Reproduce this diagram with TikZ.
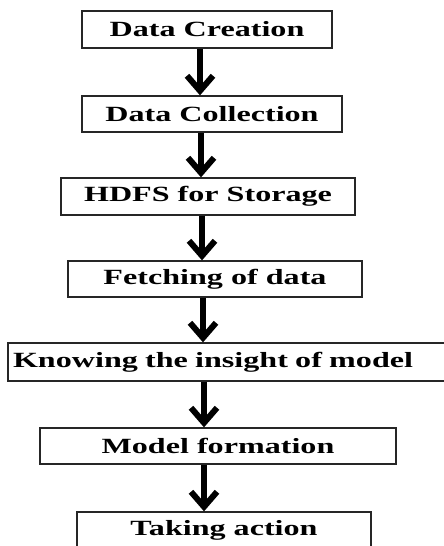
\documentclass[tikz,border=0pt]{standalone}
\usepackage{fontspec}
\setmainfont{Liberation Serif}[FakeStretch=1.48]
\usetikzlibrary{arrows.meta}
\tikzset{
  box/.style={draw=black!85, line width=1.3pt, rectangle, inner sep=0pt,
    font=\fontsize{21.7}{24}\selectfont\bfseries, text=black},
  arr/.style={line width=6pt, -{Straight Barb[length=15pt, width=26pt, line width=6pt]}}
}
\begin{document}
\begin{tikzpicture}[x=1pt,y=-1pt]
\useasboundingbox (0,0) rectangle (444,546);
\node[box, minimum width=250pt, minimum height=37pt] (b1) at (207,29.5) {Data Creation};
\node[box, minimum width=260pt, minimum height=36pt] (b2) at (212,114) {Data Collection};
\node[box, minimum width=294pt, minimum height=37pt] (b3) at (208,196.5) {HDFS for Storage};
\node[box, minimum width=294pt, minimum height=36pt] (b4) at (215,279) {Fetching of data};
\node[box, text width=432pt, inner xsep=5pt, minimum height=38pt, align=left] (b5) at (229,362) {Knowing the insight of model};
\node[box, minimum width=356pt, minimum height=36pt] (b6) at (218,446) {Model formation};
\node[box, minimum width=294pt, minimum height=37pt] (b7) at (224,530.5) {Taking action};
\coordinate (x1) at (200,0);
\coordinate (x2) at (201,0);
\coordinate (x3) at (202,0);
\coordinate (x4) at (203,0);
\coordinate (x5) at (204,0);
\coordinate (x6) at (204,0);
\draw[arr] (b1.south -| x1) -- (b2.north -| x1);
\draw[arr] (b2.south -| x2) -- (b3.north -| x2);
\draw[arr] (b3.south -| x3) -- (b4.north -| x3);
\draw[arr] (b4.south -| x4) -- (b5.north -| x4);
\draw[arr] (b5.south -| x5) -- (b6.north -| x5);
\draw[arr] (b6.south -| x6) -- (b7.north -| x6);
\end{tikzpicture}
\end{document}
